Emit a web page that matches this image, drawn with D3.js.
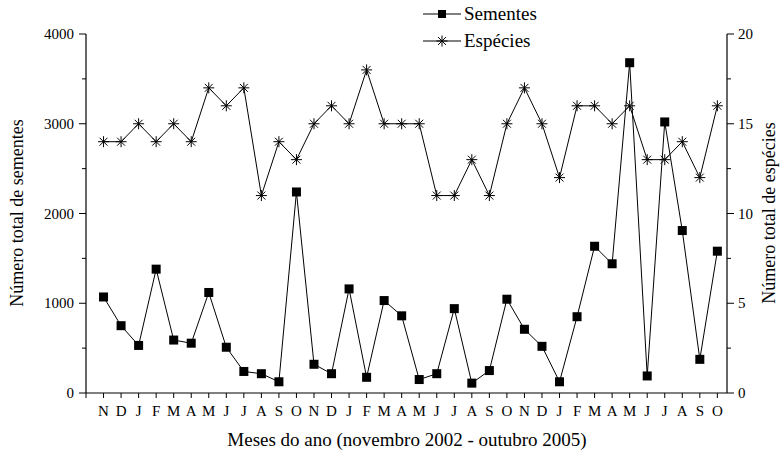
<!DOCTYPE html>
<html><head><meta charset="utf-8">
<script src="https://cdn.jsdelivr.net/npm/d3@7"></script>
<style>body{margin:0;background:#fff}svg{display:block}</style>
</head><body><svg id="c" width="781" height="453" font-family="'Liberation Serif', 'Times New Roman', Times, serif"></svg>
<script>
const months = ["N","D","J","F","M","A","M","J","J","A","S","O","N","D","J","F","M","A","M","J","J","A","S","O","N","D","J","F","M","A","M","J","J","A","S","O"];
const sementes = [1070,750,530,1380,590,555,1120,510,240,215,125,2240,320,215,1160,175,1030,860,150,215,940,110,250,1045,710,520,125,850,1635,1440,3680,190,3020,1810,375,1580];
const especies = [14,14,15,14,15,14,17,16,17,11,14,13,15,16,15,18,15,15,15,11,11,13,11,15,17,15,12,16,16,15,16,13,13,14,12,16];
const leftTicks = [0,1000,2000,3000,4000];
const rightTicks = [0,5,10,15,20];

const svg = d3.select("#c");
const x = d3.scaleLinear().domain([0, 36.55]).range([86, 727]);
const yL = d3.scaleLinear().domain([0, 4000]).range([393, 34]);
const yR = d3.scaleLinear().domain([0, 20]).range([393, 34]);

// bottom axis
const xAxis = svg.append("g").attr("transform","translate(0,393)");
xAxis.append("line").attr("x1",86).attr("x2",727).attr("stroke","#000").attr("stroke-width",1.2);
xAxis.selectAll("line.t").data(d3.range(0,37)).join("line").attr("class","t")
  .attr("x1",d=>x(d)).attr("x2",d=>x(d)).attr("y1",0).attr("y2",5).attr("stroke","#000").attr("stroke-width",1);
xAxis.selectAll("text").data(months).join("text")
  .attr("x",(d,i)=>x(i+1)).attr("y",23).attr("text-anchor","middle").attr("font-size",15).text(d=>d);

// left axis
const la = svg.append("g");
la.append("line").attr("x1",86).attr("x2",86).attr("y1",yL(4000)).attr("y2",yL(0)).attr("stroke","#000").attr("stroke-width",1.2);
la.selectAll("line.t").data(d3.range(0,4001,500)).join("line").attr("class","t")
  .attr("x1",86).attr("x2",d=>d%1000===0?79:82).attr("y1",d=>yL(d)).attr("y2",d=>yL(d)).attr("stroke","#000");
la.selectAll("text").data(leftTicks).join("text")
  .attr("x",74).attr("y",d=>yL(d)+5).attr("text-anchor","end").attr("font-size",15).text(d=>d);

// right axis
const ra = svg.append("g");
ra.append("line").attr("x1",727).attr("x2",727).attr("y1",yR(20)).attr("y2",yR(0)).attr("stroke","#000").attr("stroke-width",1.2);
ra.selectAll("line.t").data(d3.range(0,20.1,2.5)).join("line").attr("class","t")
  .attr("x1",727).attr("x2",d=>d%5===0?734:731).attr("y1",d=>yR(d)).attr("y2",d=>yR(d)).attr("stroke","#000");
ra.selectAll("text").data(rightTicks).join("text")
  .attr("x",738).attr("y",d=>yR(d)+5).attr("text-anchor","start").attr("font-size",15).text(d=>d);

// titles
svg.append("text").attr("transform","translate(23,213) rotate(-90)").attr("text-anchor","middle").attr("font-size",18).text("Número total de sementes");
svg.append("text").attr("transform","translate(775,213) rotate(-90)").attr("text-anchor","middle").attr("font-size",18).text("Número total de espécies");
svg.append("text").attr("x",407).attr("y",446).attr("text-anchor","middle").attr("font-size",19).text("Meses do ano (novembro 2002 - outubro 2005)");

// lines
const lineS = d3.line().x((d,i)=>x(i+1)).y(d=>yL(d));
const lineE = d3.line().x((d,i)=>x(i+1)).y(d=>yR(d));
svg.append("path").attr("d",lineE(especies)).attr("fill","none").attr("stroke","#000").attr("stroke-width",1);
svg.append("path").attr("d",lineS(sementes)).attr("fill","none").attr("stroke","#000").attr("stroke-width",1);

function star(cx,cy,r){const a=r*0.72;return `M${cx-r},${cy}H${cx+r}M${cx},${cy-r}V${cy+r}M${cx-a},${cy-a}L${cx+a},${cy+a}M${cx-a},${cy+a}L${cx+a},${cy-a}`;}
svg.append("g").selectAll("path").data(especies).join("path")
  .attr("d",(d,i)=>star(x(i+1),yR(d),5.5)).attr("stroke","#000").attr("stroke-width",1).attr("fill","none");
svg.append("g").selectAll("rect").data(sementes).join("rect")
  .attr("x",(d,i)=>x(i+1)-4.5).attr("y",d=>yL(d)-4.5).attr("width",9).attr("height",9).attr("fill","#000");

// legend
const lg = svg.append("g");
const legendItems = ["Sementes","Espécies"];
legendItems.forEach((t,k)=>{
  const yy = 14 + k*27;
  lg.append("line").attr("x1",423).attr("x2",461).attr("y1",yy).attr("y2",yy).attr("stroke","#000");
  if(k===0) lg.append("rect").attr("x",438).attr("y",yy-4).attr("width",8).attr("height",8).attr("fill","#000");
  else lg.append("path").attr("d",star(442,yy,5.5)).attr("stroke","#000");
  lg.append("text").attr("x",464).attr("y",yy+6).attr("font-size",19).text(t);
});
</script></body></html>
